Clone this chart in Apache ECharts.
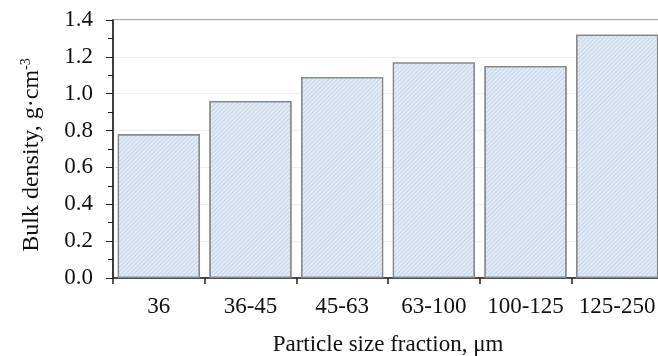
<!DOCTYPE html>
<html><head><meta charset="utf-8">
<script src="https://cdn.jsdelivr.net/npm/echarts@6/dist/echarts.min.js"></script>
<style>html,body{margin:0;padding:0;background:#fff}#c{width:658px;height:356px}</style>
</head><body><div id="c"></div>
<script>
var categories = ['36','36-45','45-63','63-100','100-125','125-250'];
var bulkDensity = [0.78, 0.96, 1.09, 1.17, 1.15, 1.32];
var yTicks = [0.0, 0.2, 0.4, 0.6, 0.8, 1.0, 1.2, 1.4];

var chart = echarts.init(document.getElementById('c'), null, {renderer:'canvas'});
var font = 'Liberation Serif';
chart.setOption({
  animation:false,
  grid:{left:113, top:20, bottom:78, right:-5, containLabel:false, outerBoundsMode:'none',
    show:true, borderColor:'#555', borderWidth:1.2, backgroundColor:'transparent'},
  xAxis:{
    type:'category', data:categories,
    axisLine:{lineStyle:{color:'#222', width:1.5}},
    axisTick:{show:true, length:6, lineStyle:{color:'#222', width:1.5}},
    axisLabel:{fontFamily:font, fontSize:23, color:'#111', margin:17, interval:0, hideOverlap:false},
    name:'Particle size fraction, μm', nameLocation:'middle', nameGap:55,
    nameTextStyle:{fontFamily:font, fontSize:23, color:'#111'}
  },
  yAxis:{
    type:'value', min:0, max:1.4, interval:0.2,
    axisLine:{show:true, lineStyle:{color:'#222', width:1.5}},
    axisTick:{show:true, length:7, lineStyle:{color:'#222'}},
    minorTick:{show:true, splitNumber:2, length:5, lineStyle:{color:'#222'}},
    splitLine:{show:true, lineStyle:{color:'#eeeeee'}},
    axisLabel:{fontFamily:font, fontSize:23, color:'#111', margin:20,
      formatter:function(v){ return v.toFixed(1); }},
    name:'{a|Bulk density, g·cm}{s|-3}', nameLocation:'middle', nameGap:68,
    nameTextStyle:{fontFamily:font, fontSize:24, color:'#111', padding:[0,12,0,0],
      rich:{a:{fontFamily:font, fontSize:24, color:'#111'},
            s:{fontFamily:font, fontSize:14, color:'#111', padding:[0,0,12,0]}}}
  },
  series:[{
    type:'bar', data:bulkDensity, barWidth:82,
    itemStyle:{color:'#e0eaf6', borderColor:'#858585', borderWidth:1.2,
      decal:{symbol:'rect', symbolSize:1, dashArrayX:[1,0], dashArrayY:[1,2], rotation:-Math.PI/4, color:'rgba(165,185,210,0.4)'}}
  }]
});
</script></body></html>
